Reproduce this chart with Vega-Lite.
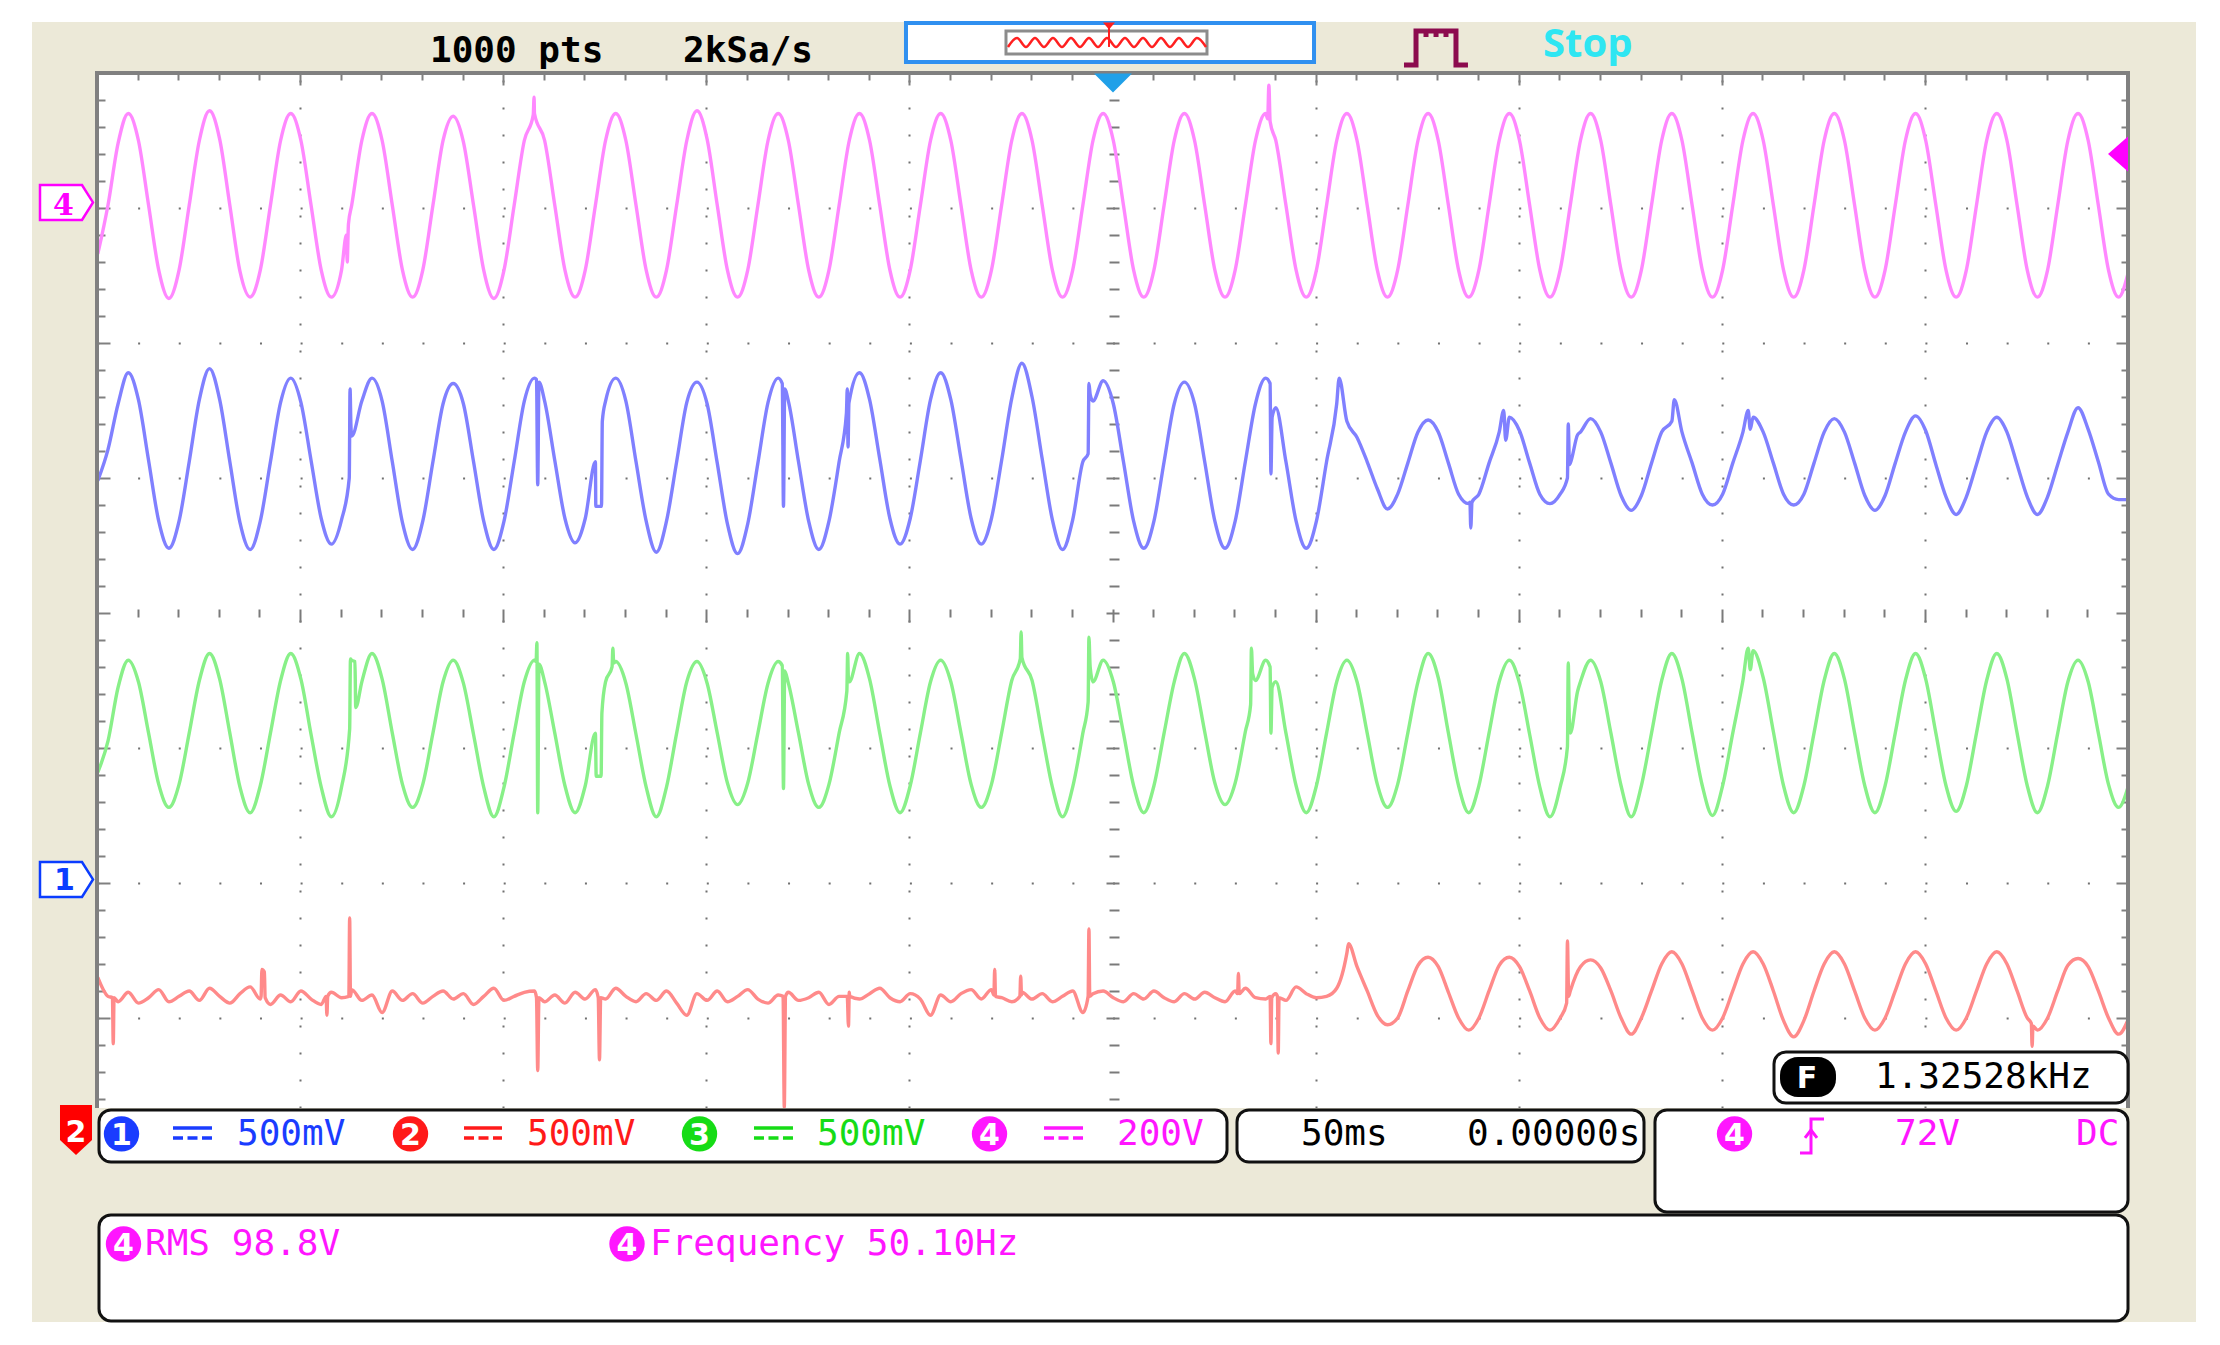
{
"$schema":"https://vega.github.io/schema/vega-lite/v6.json",
"width":2031,"height":1035,
"autosize":{"type":"none"},
"padding":{"left":97,"top":73,"right":92,"bottom":237},
"background":"white",
"config":{"view":{"stroke":null,"fill":"white"}},
"resolve":{"axis":{"x":"independent","y":"independent"}},
"layer":[
{"data":{"values":[
{"x":-266,"x2":266.74,"y":4.378,"y2":4},
{"x":-266,"x2":266.74,"y":-3.667,"y2":-5.252},
{"x":-266,"x2":-250,"y":4,"y2":-3.667},
{"x":250,"x2":266.74,"y":4,"y2":-3.667}]},
"mark":{"type":"rect","color":"#ECE9D8"},
"encoding":{"x":{"field":"x","type":"quantitative","axis":null},"x2":{"field":"x2"},
"y":{"field":"y","type":"quantitative","axis":{"orient":"left","offset":-1022,"values":[-3.6,-3.4,-3.2,-3,-2.8,-2.6,-2.4,-2.2,-2,-1.8,-1.6,-1.4,-1.2,-1,-0.8,-0.6,-0.4,-0.2,0,0.2,0.4,0.6,0.8,1,1.2,1.4,1.6,1.8,2,2.2,2.4,2.6,2.8,3,3.2,3.4,3.6,3.8],"domain":false,"labels":false,"grid":false,"ticks":true,"tickColor":"#7a7a7a","tickWidth":2,"tickSize":{"condition":{"test":"abs(datum.value-round(datum.value))<0.01","value":13},"value":10},"title":null,"zindex":0}},
"y2":{"field":"y2"}}},
{"data":{"values":[
{"t":-249.8,"a":-2.70,"b":0.98,"c":-1.18,"d":2.66},
{"t":-247.3,"a":-2.84,"b":1.21,"c":-0.95,"d":3.02},
{"t":-246.2,"a":-2.85},{"t":-246.0,"a":-3.19},{"t":-245.8,"a":-2.85},
{"t":-244.8,"a":-2.88,"b":1.55,"c":-0.55,"d":3.48},
{"t":-242.3,"a":-2.81,"b":1.78,"c":-0.35,"d":3.70},
{"t":-239.8,"a":-2.89,"b":1.58,"c":-0.51,"d":3.50},
{"t":-237.3,"a":-2.85,"b":1.13,"c":-0.89,"d":3.02},
{"t":-234.8,"a":-2.79,"b":0.68,"c":-1.27,"d":2.54},
{"t":-232.3,"a":-2.88,"b":0.48,"c":-1.44,"d":2.33},
{"t":-229.8,"a":-2.84,"b":0.68,"c":-1.27,"d":2.54},
{"t":-227.3,"a":-2.80,"b":1.12,"c":-0.89,"d":3.02},
{"t":-224.8,"a":-2.87,"b":1.58,"c":-0.50,"d":3.50},
{"t":-222.3,"a":-2.78,"b":1.81,"c":-0.30,"d":3.72},
{"t":-219.8,"a":-2.84,"b":1.58,"c":-0.49,"d":3.51},
{"t":-217.3,"a":-2.89,"b":1.12,"c":-0.89,"d":3.02},
{"t":-214.8,"a":-2.82,"b":0.67,"c":-1.29,"d":2.53},
{"t":-212.3,"a":-2.77,"b":0.47,"c":-1.48,"d":2.34},
{"t":-209.8,"a":-2.86,"b":0.68,"c":-1.28,"d":2.54},
{"t":-209.6,"a":-2.84},{"t":-209.4,"a":-2.64},{"t":-208.8,"a":-2.66},{"t":-208.6,"a":-2.85},
{"t":-207.3,"a":-2.90,"b":1.12,"c":-0.89,"d":3.02},
{"t":-204.8,"a":-2.83,"b":1.56,"c":-0.50,"d":3.50},
{"t":-202.3,"a":-2.88,"b":1.74,"c":-0.30,"d":3.70},
{"t":-199.8,"a":-2.80,"b":1.56,"c":-0.49,"d":3.50},
{"t":-197.3,"a":-2.86,"b":1.13,"c":-0.90,"d":3.02},
{"t":-194.8,"a":-2.90,"b":0.70,"c":-1.29,"d":2.54},
{"t":-193.6,"a":-2.84},{"t":-193.4,"a":-2.98},{"t":-193.2,"a":-2.84},
{"t":-192.3,"a":-2.81,"b":0.51,"c":-1.51,"d":2.34},
{"t":-189.8,"a":-2.85,"b":0.69,"c":-1.29,"d":2.54},
{"t":-188.6,"d":2.80},{"t":-188.4,"d":2.60},{"t":-188.1,"d":2.88},
{"t":-188.0,"a":-2.84},{"t":-187.9,"b":1.00},
{"t":-187.8,"a":-2.26,"c":-0.86},
{"t":-187.7,"b":1.66},
{"t":-187.6,"a":-2.84,"c":-0.34},
{"t":-187.5,"b":1.40},
{"t":-187.3,"a":-2.79,"b":1.31,"c":-0.35,"d":3.02},
{"t":-186.5,"c":-0.36},{"t":-186.3,"c":-0.70},
{"t":-184.8,"a":-2.87,"b":1.57,"c":-0.51,"d":3.50},
{"t":-182.3,"a":-2.83,"b":1.74,"c":-0.30,"d":3.70},
{"t":-179.8,"a":-2.96,"b":1.57,"c":-0.49,"d":3.50},
{"t":-177.3,"a":-2.80,"b":1.12,"c":-0.89,"d":3.02},
{"t":-174.8,"a":-2.87,"b":0.67,"c":-1.27,"d":2.54},
{"t":-172.3,"a":-2.82,"b":0.47,"c":-1.44,"d":2.34},
{"t":-169.8,"a":-2.89,"b":0.68,"c":-1.27,"d":2.54},
{"t":-167.3,"a":-2.84,"b":1.12,"c":-0.89,"d":3.02},
{"t":-164.8,"a":-2.80,"b":1.55,"c":-0.51,"d":3.50},
{"t":-162.3,"a":-2.86,"b":1.70,"c":-0.35,"d":3.68},
{"t":-159.8,"a":-2.82,"b":1.55,"c":-0.52,"d":3.49},
{"t":-157.3,"a":-2.90,"b":1.12,"c":-0.90,"d":3.02},
{"t":-154.8,"a":-2.84,"b":0.68,"c":-1.29,"d":2.54},
{"t":-152.3,"a":-2.78,"b":0.47,"c":-1.51,"d":2.33},
{"t":-149.8,"a":-2.87,"b":0.68,"c":-1.29,"d":2.54},
{"t":-147.3,"a":-2.84,"b":1.12,"c":-0.89,"d":3.02},
{"t":-144.8,"a":-2.81,"b":1.57,"c":-0.51,"d":3.50},
{"t":-142.6,"d":3.69},{"t":-142.4,"d":3.82},
{"t":-142.3,"a":-2.80,"b":1.74,"c":-0.35,"d":3.70},
{"t":-141.9,"c":-0.36},
{"t":-141.8,"a":-2.85,"b":1.73},
{"t":-141.7,"c":-0.22},
{"t":-141.5,"a":-3.39,"b":0.95,"c":-1.48},
{"t":-141.2,"a":-2.85,"b":1.71,"c":-0.38},
{"t":-139.8,"a":-2.88,"b":1.57,"c":-0.51,"d":3.50},
{"t":-137.3,"a":-2.83,"b":1.13,"c":-0.89,"d":3.02},
{"t":-134.8,"a":-2.89,"b":0.70,"c":-1.28,"d":2.54},
{"t":-132.3,"a":-2.81,"b":0.52,"c":-1.48,"d":2.34},
{"t":-129.8,"a":-2.86,"b":0.70,"c":-1.28,"d":2.54},
{"t":-127.3,"a":-2.79,"b":1.12,"c":-0.89,"d":3.02},
{"t":-127.2,"b":0.79},{"t":-127.1,"c":-1.21},
{"t":-126.6,"a":-2.85},{"t":-126.3,"a":-3.31},{"t":-126.0,"a":-2.85},
{"t":-125.9,"c":-1.21},{"t":-125.8,"b":0.79},{"t":-125.7,"c":-0.74},{"t":-125.6,"b":1.42},
{"t":-124.8,"a":-2.86,"b":1.57,"c":-0.51,"d":3.50},
{"t":-123.2,"c":-0.40},{"t":-123.0,"c":-0.26},{"t":-122.8,"c":-0.37},
{"t":-122.3,"a":-2.78,"b":1.74,"c":-0.36,"d":3.70},
{"t":-119.8,"a":-2.84,"b":1.57,"c":-0.52,"d":3.50},
{"t":-117.3,"a":-2.88,"b":1.12,"c":-0.90,"d":3.02},
{"t":-114.8,"a":-2.82,"b":0.68,"c":-1.29,"d":2.54},
{"t":-112.3,"a":-2.87,"b":0.45,"c":-1.51,"d":2.34},
{"t":-109.8,"a":-2.80,"b":0.68,"c":-1.29,"d":2.54},
{"t":-107.3,"a":-2.89,"b":1.12,"c":-0.89,"d":3.02},
{"t":-104.8,"a":-2.98,"b":1.56,"c":-0.51,"d":3.50},
{"t":-102.3,"a":-2.82,"b":1.71,"c":-0.36,"d":3.72},
{"t":-99.8,"a":-2.87,"b":1.55,"c":-0.52,"d":3.51},
{"t":-97.3,"a":-2.80,"b":1.11,"c":-0.89,"d":3.02},
{"t":-94.8,"a":-2.88,"b":0.66,"c":-1.26,"d":2.54},
{"t":-92.3,"a":-2.84,"b":0.44,"c":-1.42,"d":2.34},
{"t":-89.8,"a":-2.79,"b":0.66,"c":-1.26,"d":2.54},
{"t":-87.3,"a":-2.86,"b":1.11,"c":-0.89,"d":3.02},
{"t":-84.8,"a":-2.89,"b":1.56,"c":-0.52,"d":3.50},
{"t":-82.3,"a":-2.83,"b":1.74,"c":-0.36,"d":3.70},
{"t":-81.3,"b":1.70,"c":-0.39},{"t":-81.1,"a":-2.84},{"t":-81.0,"b":0.79,"c":-1.30},{"t":-80.8,"a":-3.66},{"t":-80.7,"b":1.66,"c":-0.43},{"t":-80.5,"a":-2.84},
{"t":-79.8,"a":-2.81,"b":1.57,"c":-0.52,"d":3.50},
{"t":-77.3,"a":-2.87,"b":1.12,"c":-0.89,"d":3.02},
{"t":-74.8,"a":-2.85,"b":0.68,"c":-1.27,"d":2.54},
{"t":-72.3,"a":-2.81,"b":0.47,"c":-1.44,"d":2.34},
{"t":-69.8,"a":-2.90,"b":0.68,"c":-1.27,"d":2.54},
{"t":-67.3,"a":-2.84,"b":1.12,"c":-0.89,"d":3.02},
{"t":-65.5,"b":1.48},{"t":-65.4,"c":-0.58},{"t":-65.3,"a":-2.84,"b":1.66},{"t":-65.2,"c":-0.30},{"t":-65.1,"b":1.23},{"t":-65.0,"a":-3.06,"c":-0.50},{"t":-64.9,"b":1.55},
{"t":-64.8,"a":-2.81,"b":1.57,"c":-0.51,"d":3.50},
{"t":-64.7,"a":-2.84},
{"t":-62.3,"a":-2.86,"b":1.78,"c":-0.30,"d":3.70},
{"t":-59.8,"a":-2.82,"b":1.58,"c":-0.49,"d":3.50},
{"t":-57.3,"a":-2.78,"b":1.14,"c":-0.89,"d":3.02},
{"t":-54.8,"a":-2.85,"b":0.70,"c":-1.28,"d":2.54},
{"t":-52.3,"a":-2.88,"b":0.51,"c":-1.48,"d":2.34},
{"t":-49.8,"a":-2.82,"b":0.70,"c":-1.28,"d":2.54},
{"t":-47.3,"a":-2.86,"b":1.13,"c":-0.89,"d":3.02},
{"t":-44.8,"a":-2.98,"b":1.58,"c":-0.51,"d":3.50},
{"t":-42.3,"a":-2.83,"b":1.78,"c":-0.35,"d":3.70},
{"t":-39.8,"a":-2.88,"b":1.58,"c":-0.51,"d":3.50},
{"t":-37.3,"a":-2.82,"b":1.14,"c":-0.89,"d":3.02},
{"t":-34.8,"a":-2.79,"b":0.70,"c":-1.27,"d":2.54},
{"t":-32.3,"a":-2.86,"b":0.51,"c":-1.44,"d":2.34},
{"t":-29.8,"a":-2.79,"b":0.70,"c":-1.27,"d":2.54},
{"t":-29.2,"a":-2.83},{"t":-29.0,"a":-2.64},{"t":-28.8,"a":-2.84},
{"t":-27.3,"a":-2.85,"b":1.13,"c":-0.89,"d":3.02},
{"t":-24.8,"a":-2.88,"b":1.59,"c":-0.50,"d":3.50},
{"t":-22.8,"a":-2.84},{"t":-22.7,"c":-0.34},{"t":-22.6,"a":-2.69},{"t":-22.5,"c":-0.14},{"t":-22.4,"a":-2.83},
{"t":-22.3,"a":-2.81,"b":1.85,"c":-0.33,"d":3.70},
{"t":-19.8,"a":-2.86,"b":1.60,"c":-0.50,"d":3.50},
{"t":-17.3,"a":-2.82,"b":1.14,"c":-0.90,"d":3.02},
{"t":-14.8,"a":-2.88,"b":0.69,"c":-1.29,"d":2.54},
{"t":-12.3,"a":-2.84,"b":0.47,"c":-1.51,"d":2.34},
{"t":-9.8,"a":-2.80,"b":0.69,"c":-1.29,"d":2.54},
{"t":-7.3,"a":-2.96,"b":1.12,"c":-0.89,"d":3.02},
{"t":-6.0,"a":-2.84,"b":1.18,"c":-0.66},{"t":-5.8,"a":-2.34,"b":1.70,"c":-0.18},{"t":-5.6,"a":-2.84},{"t":-5.5,"b":1.62,"c":-0.40},
{"t":-4.8,"a":-2.82,"b":1.57,"c":-0.51,"d":3.50},
{"t":-2.3,"a":-2.80,"b":1.72,"c":-0.35,"d":3.70},
{"t":0.2,"a":-2.85,"b":1.55,"c":-0.51,"d":3.50},
{"t":2.7,"a":-2.88,"b":1.12,"c":-0.89,"d":3.02},
{"t":5.2,"a":-2.82,"b":0.68,"c":-1.28,"d":2.54},
{"t":7.7,"a":-2.86,"b":0.48,"c":-1.48,"d":2.34},
{"t":10.2,"a":-2.80,"b":0.68,"c":-1.28,"d":2.54},
{"t":12.7,"a":-2.85,"b":1.12,"c":-0.89,"d":3.02},
{"t":15.2,"a":-2.88,"b":1.55,"c":-0.51,"d":3.50},
{"t":17.7,"a":-2.82,"b":1.71,"c":-0.30,"d":3.70},
{"t":20.2,"a":-2.86,"b":1.55,"c":-0.49,"d":3.50},
{"t":22.7,"a":-2.81,"b":1.12,"c":-0.88,"d":3.02},
{"t":25.2,"a":-2.85,"b":0.68,"c":-1.26,"d":2.54},
{"t":27.7,"a":-2.88,"b":0.48,"c":-1.42,"d":2.34},
{"t":30.2,"a":-2.80,"b":0.68,"c":-1.26,"d":2.54},
{"t":30.8,"a":-2.82},{"t":31.0,"a":-2.67},{"t":31.2,"a":-2.82},
{"t":32.7,"a":-2.78,"b":1.12,"c":-0.88,"d":3.02},
{"t":34.0,"c":-0.68},{"t":34.2,"c":-0.26},{"t":34.5,"c":-0.45},
{"t":35.2,"a":-2.85,"b":1.55,"c":-0.50,"d":3.50},
{"t":37.7,"a":-2.86,"b":1.74,"c":-0.35,"d":3.70},
{"t":38.2,"d":3.66},{"t":38.5,"d":3.91},
{"t":38.8,"a":-2.84,"b":1.70,"c":-0.40,"d":3.64},
{"t":39.0,"a":-3.19,"b":1.03,"c":-0.89},
{"t":39.2,"a":-2.85},{"t":39.3,"b":1.45,"c":-0.55},
{"t":40.2,"a":-2.82,"b":1.52,"c":-0.51,"d":3.50},
{"t":40.6,"a":-2.84},{"t":40.8,"a":-3.26},{"t":41.0,"a":-2.85},
{"t":42.7,"a":-2.87,"b":1.12,"c":-0.89,"d":3.02},
{"t":45.2,"a":-2.77,"b":0.68,"c":-1.28,"d":2.54},
{"t":47.7,"a":-2.82,"b":0.48,"c":-1.48,"d":2.34},
{"t":50.2,"a":-2.85,"b":0.68,"c":-1.28,"d":2.54},
{"t":52.7,"a":-2.84,"b":1.12,"c":-0.89,"d":3.02},
{"t":55.2,"a":-2.78,"b":1.55,"c":-0.51,"d":3.50},
{"t":55.8,"b":1.74},
{"t":57.7,"a":-2.52,"b":1.42,"c":-0.35,"d":3.70},
{"t":58.1,"a":-2.45},
{"t":60.2,"a":-2.62,"b":1.30,"c":-0.51,"d":3.50},
{"t":62.7,"a":-2.80,"b":1.12,"c":-0.89,"d":3.02},
{"t":65.2,"a":-2.98,"b":0.92,"c":-1.27,"d":2.54},
{"t":67.7,"a":-3.05,"b":0.77,"c":-1.44,"d":2.34},
{"t":70.2,"a":-3.00,"b":0.88,"c":-1.27,"d":2.54},
{"t":72.7,"a":-2.80,"b":1.11,"c":-0.89,"d":3.02},
{"t":75.2,"a":-2.61,"b":1.34,"c":-0.51,"d":3.50},
{"t":77.7,"a":-2.55,"b":1.43,"c":-0.30,"d":3.70},
{"t":80.2,"a":-2.62,"b":1.34,"c":-0.48,"d":3.50},
{"t":82.7,"a":-2.81,"b":1.11,"c":-0.89,"d":3.02},
{"t":85.2,"a":-3.00,"b":0.88,"c":-1.28,"d":2.54},
{"t":87.7,"a":-3.09,"b":0.81,"c":-1.48,"d":2.34},
{"t":88.0,"b":0.82},{"t":88.2,"b":0.63},{"t":88.5,"b":0.82},
{"t":90.2,"a":-3.00,"b":0.88,"c":-1.28,"d":2.54},
{"t":92.7,"a":-2.80,"b":1.11,"c":-0.89,"d":3.02},
{"t":95.2,"a":-2.61,"b":1.34,"c":-0.51,"d":3.50},
{"t":96.3,"b":1.50},{"t":96.8,"b":1.28},
{"t":97.7,"a":-2.55,"b":1.45,"c":-0.35,"d":3.70},
{"t":100.2,"a":-2.62,"b":1.35,"c":-0.52,"d":3.50},
{"t":102.7,"a":-2.80,"b":1.11,"c":-0.90,"d":3.02},
{"t":105.2,"a":-3.00,"b":0.88,"c":-1.29,"d":2.54},
{"t":107.7,"a":-3.09,"b":0.81,"c":-1.51,"d":2.34},
{"t":110.2,"a":-3.00,"b":0.88,"c":-1.29,"d":2.54},
{"t":111.8,"a":-2.89},{"t":112.0,"a":-2.43,"b":1.00,"c":-0.99},{"t":112.2,"b":1.40,"c":-0.37},{"t":112.3,"a":-2.84},{"t":112.5,"b":1.10,"c":-0.84},
{"t":112.7,"a":-2.80,"b":1.11,"c":-0.89,"d":3.02},
{"t":114.5,"b":1.32,"c":-0.58},
{"t":115.2,"a":-2.62,"b":1.34,"c":-0.51,"d":3.50},
{"t":117.7,"a":-2.57,"b":1.44,"c":-0.35,"d":3.70},
{"t":120.2,"a":-2.63,"b":1.34,"c":-0.51,"d":3.50},
{"t":122.7,"a":-2.80,"b":1.11,"c":-0.89,"d":3.02},
{"t":125.2,"a":-3.00,"b":0.87,"c":-1.28,"d":2.54},
{"t":127.7,"a":-3.12,"b":0.76,"c":-1.51,"d":2.34},
{"t":130.2,"a":-3.00,"b":0.87,"c":-1.28,"d":2.54},
{"t":132.7,"a":-2.80,"b":1.11,"c":-0.89,"d":3.02},
{"t":135.2,"a":-2.60,"b":1.34,"c":-0.50,"d":3.50},
{"t":137.7,"a":-2.51,"b":1.42,"c":-0.30,"d":3.70},
{"t":138.3,"b":1.58},
{"t":140.2,"a":-2.60,"b":1.34,"c":-0.49,"d":3.50},
{"t":142.7,"a":-2.80,"b":1.11,"c":-0.89,"d":3.02},
{"t":145.2,"a":-3.00,"b":0.88,"c":-1.28,"d":2.54},
{"t":147.7,"a":-3.09,"b":0.80,"c":-1.50,"d":2.34},
{"t":150.2,"a":-3.00,"b":0.88,"c":-1.28,"d":2.54},
{"t":152.7,"a":-2.80,"b":1.11,"c":-0.89,"d":3.02},
{"t":155.2,"a":-2.60,"b":1.34,"c":-0.50,"d":3.50},
{"t":156.5,"b":1.50,"c":-0.26},{"t":157.0,"b":1.36,"c":-0.42},
{"t":157.7,"a":-2.51,"b":1.45,"c":-0.28,"d":3.70},
{"t":160.2,"a":-2.60,"b":1.34,"c":-0.48,"d":3.50},
{"t":162.7,"a":-2.80,"b":1.11,"c":-0.88,"d":3.02},
{"t":165.2,"a":-3.02,"b":0.88,"c":-1.28,"d":2.54},
{"t":167.7,"a":-3.14,"b":0.80,"c":-1.48,"d":2.34},
{"t":170.2,"a":-3.02,"b":0.88,"c":-1.28,"d":2.54},
{"t":172.7,"a":-2.80,"b":1.11,"c":-0.89,"d":3.02},
{"t":175.2,"a":-2.60,"b":1.34,"c":-0.50,"d":3.50},
{"t":177.7,"a":-2.51,"b":1.44,"c":-0.30,"d":3.70},
{"t":180.2,"a":-2.60,"b":1.34,"c":-0.49,"d":3.50},
{"t":182.7,"a":-2.80,"b":1.11,"c":-0.89,"d":3.02},
{"t":185.2,"a":-3.00,"b":0.87,"c":-1.28,"d":2.54},
{"t":187.7,"a":-3.09,"b":0.76,"c":-1.48,"d":2.34},
{"t":190.2,"a":-3.00,"b":0.87,"c":-1.28,"d":2.54},
{"t":192.7,"a":-2.80,"b":1.11,"c":-0.89,"d":3.02},
{"t":195.2,"a":-2.60,"b":1.34,"c":-0.50,"d":3.50},
{"t":197.7,"a":-2.51,"b":1.46,"c":-0.30,"d":3.70},
{"t":200.2,"a":-2.60,"b":1.35,"c":-0.49,"d":3.50},
{"t":202.7,"a":-2.80,"b":1.10,"c":-0.89,"d":3.02},
{"t":205.2,"a":-3.00,"b":0.86,"c":-1.28,"d":2.54},
{"t":207.7,"a":-3.09,"b":0.73,"c":-1.47,"d":2.34},
{"t":210.2,"a":-3.00,"b":0.86,"c":-1.28,"d":2.54},
{"t":212.7,"a":-2.80,"b":1.10,"c":-0.89,"d":3.02},
{"t":215.2,"a":-2.60,"b":1.34,"c":-0.50,"d":3.50},
{"t":217.7,"a":-2.51,"b":1.45,"c":-0.30,"d":3.70},
{"t":220.2,"a":-2.60,"b":1.34,"c":-0.49,"d":3.50},
{"t":222.7,"a":-2.80,"b":1.10,"c":-0.89,"d":3.02},
{"t":225.2,"a":-3.00,"b":0.86,"c":-1.28,"d":2.54},
{"t":226.2,"a":-3.04},{"t":226.4,"a":-3.21},{"t":226.6,"a":-3.06},
{"t":227.7,"a":-3.09,"b":0.73,"c":-1.48,"d":2.34},
{"t":230.2,"a":-3.00,"b":0.86,"c":-1.28,"d":2.54},
{"t":232.7,"a":-2.80,"b":1.10,"c":-0.89,"d":3.02},
{"t":235.2,"a":-2.61,"b":1.34,"c":-0.51,"d":3.50},
{"t":237.7,"a":-2.56,"b":1.52,"c":-0.35,"d":3.70},
{"t":240.2,"a":-2.62,"b":1.36,"c":-0.51,"d":3.50},
{"t":242.7,"a":-2.80,"b":1.12,"c":-0.89,"d":3.02},
{"t":245.2,"a":-3.00,"b":0.88,"c":-1.27,"d":2.54},
{"t":247.7,"a":-3.12,"b":0.84,"c":-1.44,"d":2.34},
{"t":250.2,"a":-3.00,"b":0.84,"c":-1.27,"d":2.54}]},
"transform":[{"fold":["a","b","c","d"],"as":["ch","v"]},{"filter":"isValid(datum.v)"}],
"mark":{"type":"line","strokeWidth":3.4,"clip":true,"interpolate":"monotone"},
"encoding":{
"x":{"field":"t","type":"quantitative","scale":{"domain":[-250,250],"nice":false,"zero":false},"axis":{"orient":"top","values":[-240,-230,-220,-210,-200,-190,-180,-170,-160,-150,-140,-130,-120,-110,-100,-90,-80,-70,-60,-50,-40,-30,-20,-10,0,10,20,30,40,50,60,70,80,90,100,110,120,130,140,150,160,170,180,190,200,210,220,230,240],"domain":false,"labels":false,"ticks":true,"tickColor":"#808080","tickWidth":2,"tickSize":{"condition":{"test":"datum.value % 50 === 0","value":-12},"value":-7},"grid":true,"gridColor":"#707070","gridWidth":2,"gridDash":[2,25],"gridOpacity":{"condition":{"test":"datum.value % 50 === 0 && datum.value !== 0","value":1},"value":0},"title":null,"zindex":0}},
"y":{"field":"v","type":"quantitative","scale":{"domain":[-3.667,4],"nice":false,"zero":false},"axis":{"orient":"left","values":[-3.6,-3.4,-3.2,-3,-2.8,-2.6,-2.4,-2.2,-2,-1.8,-1.6,-1.4,-1.2,-1,-0.8,-0.6,-0.4,-0.2,0,0.2,0.4,0.6,0.8,1,1.2,1.4,1.6,1.8,2,2.2,2.4,2.6,2.8,3,3.2,3.4,3.6,3.8],"domain":false,"labels":false,"ticks":true,"tickColor":"#808080","tickWidth":2,"tickSize":{"condition":{"test":"abs(datum.value-round(datum.value))<0.01","value":-13},"value":-8},"grid":true,"gridColor":"#707070","gridWidth":2,"gridDash":[2,38.62],"gridOpacity":{"condition":{"test":"abs(datum.value-round(datum.value))<0.01 && abs(datum.value)>0.01","value":1},"value":0},"title":null,"zindex":0}},
"stroke":{"field":"ch","type":"nominal","scale":{"domain":["a","b","c","d"],"range":["#FF8A8A","#8080FF","#88F088","#FF88FF"]},"legend":null}}},
{"data":{"values":[
{"x":-250,"x2":-250,"y":4.015,"y2":-3.667},
{"x":250,"x2":250,"y":4.015,"y2":-3.667},
{"x":-250.4,"x2":250.4,"y":4,"y2":4}]},
"mark":{"type":"rule","color":"#808080","strokeWidth":4},
"encoding":{
"x":{"field":"x","type":"quantitative","axis":{"orient":"bottom","offset":-499,"values":[-240,-230,-220,-210,-200,-190,-180,-170,-160,-150,-140,-130,-120,-110,-100,-90,-80,-70,-60,-50,-40,-30,-20,-10,0,10,20,30,40,50,60,70,80,90,100,110,120,130,140,150,160,170,180,190,200,210,220,230,240],"domain":false,"labels":false,"grid":false,"ticks":true,"tickColor":"#7a7a7a","tickWidth":2,"tickSize":{"condition":{"test":"datum.value % 50 === 0","value":13},"value":8},"title":null,"zindex":0}},
"x2":{"field":"x2"},
"y":{"field":"y","type":"quantitative","axis":{"orient":"right","values":[-3.6,-3.4,-3.2,-3,-2.8,-2.6,-2.4,-2.2,-2,-1.8,-1.6,-1.4,-1.2,-1,-0.8,-0.6,-0.4,-0.2,0,0.2,0.4,0.6,0.8,1,1.2,1.4,1.6,1.8,2,2.2,2.4,2.6,2.8,3,3.2,3.4,3.6,3.8],"domain":false,"labels":false,"grid":false,"ticks":true,"tickColor":"#808080","tickWidth":2,"tickSize":{"condition":{"test":"abs(datum.value-round(datum.value))<0.01","value":-12},"value":-7},"title":null,"zindex":0}},
"y2":{"field":"y2"}}},
{"data":{"values":[
{"x":-249.51,"x2":28.19,"y":-3.681,"y2":-4.067},
{"x":30.65,"x2":130.85,"y":-3.681,"y2":-4.067},
{"x":133.55,"x2":250,"y":-3.681,"y2":-4.437},
{"x":162.85,"x2":250,"y":-3.252,"y2":-3.630},
{"x":-249.51,"x2":250,"y":-4.459,"y2":-5.244}]},
"mark":{"type":"rect","fill":"white","stroke":"#111111","strokeWidth":3,"cornerRadius":12},
"encoding":{"x":{"field":"x","type":"quantitative","axis":null},"x2":{"field":"x2"},"y":{"field":"y","type":"quantitative","axis":null},"y2":{"field":"y2"}}},
{"data":{"values":[{"x":164.33,"x2":178.11,"y":-3.289,"y2":-3.585}]},
"mark":{"type":"rect","fill":"black","cornerRadius":18},
"encoding":{"x":{"field":"x","type":"quantitative","axis":null},"x2":{"field":"x2"},"y":{"field":"y","type":"quantitative","axis":null},"y2":{"field":"y2"}}},
{"data":{"values":[{"x":-50.84,"x2":49.61,"y":4.370,"y2":4.081}]},
"mark":{"type":"rect","fill":"white","stroke":"#3090F0","strokeWidth":4},
"encoding":{"x":{"field":"x","type":"quantitative","axis":null},"x2":{"field":"x2"},"y":{"field":"y","type":"quantitative","axis":null},"y2":{"field":"y2"}}},
{"data":{"values":[{"x":-26.22,"x2":23.26,"y":4.311,"y2":4.141}]},
"mark":{"type":"rect","fill":"white","stroke":"#8C8C8C","strokeWidth":3},
"encoding":{"x":{"field":"x","type":"quantitative","axis":null},"x2":{"field":"x2"},"y":{"field":"y","type":"quantitative","axis":null},"y2":{"field":"y2"}}},
{"data":{"values":[
{"x":-25.73,"y":4.193},{"x":-23.51,"y":4.259},{"x":-21.30,"y":4.193},{"x":-19.08,"y":4.259},{"x":-16.87,"y":4.193},{"x":-14.65,"y":4.259},{"x":-12.44,"y":4.193},{"x":-10.22,"y":4.259},{"x":-8.00,"y":4.193},{"x":-5.79,"y":4.259},{"x":-3.57,"y":4.193},{"x":-1.36,"y":4.259},{"x":0.86,"y":4.193},{"x":3.07,"y":4.259},{"x":5.29,"y":4.193},{"x":7.51,"y":4.259},{"x":9.72,"y":4.193},{"x":11.94,"y":4.259},{"x":14.15,"y":4.193},{"x":16.37,"y":4.259},{"x":18.58,"y":4.193},{"x":20.80,"y":4.259},{"x":23.02,"y":4.193}]},
"mark":{"type":"line","color":"#FF2020","strokeWidth":2.5,"interpolate":"monotone"},
"encoding":{"x":{"field":"x","type":"quantitative","axis":null},"y":{"field":"y","type":"quantitative","axis":null}}},
{"data":{"values":[{"x":-0.86,"y":4.348,"y2":4.193}]},
"mark":{"type":"rule","color":"#FF2020","strokeWidth":2},
"encoding":{"x":{"field":"x","type":"quantitative","axis":null},"y":{"field":"y","type":"quantitative","axis":null},"y2":{"field":"y2"}}},
{"data":{"values":[{"x":-0.86,"y":4.348}]},
"mark":{"type":"point","shape":"M-1,-0.6L1,-0.6L0,0.6Z","size":144,"filled":true,"color":"#FF2020","opacity":1},
"encoding":{"x":{"field":"x","type":"quantitative","axis":null},"y":{"field":"y","type":"quantitative","axis":null}}},
{"data":{"values":[
{"i":0,"x":71.76,"y":4.059},{"i":1,"x":74.72,"y":4.059},{"i":2,"x":74.72,"y":4.311},{"i":3,"x":77.18,"y":4.311},{"i":4,"x":77.18,"y":4.267},{"i":5,"x":77.18,"y":4.311},{"i":6,"x":79.65,"y":4.311},{"i":7,"x":79.65,"y":4.267},{"i":8,"x":79.65,"y":4.311},{"i":9,"x":82.10,"y":4.311},{"i":10,"x":82.10,"y":4.267},{"i":11,"x":82.10,"y":4.311},{"i":12,"x":84.56,"y":4.311},{"i":13,"x":84.56,"y":4.059},{"i":14,"x":87.51,"y":4.059}]},
"mark":{"type":"line","color":"#8C0B4E","strokeWidth":5,"strokeJoin":"miter"},
"encoding":{"x":{"field":"x","type":"quantitative","axis":null},"y":{"field":"y","type":"quantitative","axis":null},"order":{"field":"i"}}},
{"data":{"values":[
{"g":1,"i":0,"x":169.25,"y":-4.0},{"g":1,"i":1,"x":171.96,"y":-4.0},{"g":1,"i":2,"x":171.96,"y":-3.748},{"g":1,"i":3,"x":175.16,"y":-3.748},
{"g":2,"i":0,"x":170.48,"y":-3.889},{"g":2,"i":1,"x":171.96,"y":-3.830},{"g":2,"i":2,"x":173.44,"y":-3.889}]},
"mark":{"type":"line","color":"#FF14FF","strokeWidth":3},
"encoding":{"x":{"field":"x","type":"quantitative","axis":null},"y":{"field":"y","type":"quantitative","axis":null},"order":{"field":"i"},"detail":{"field":"g","type":"nominal"}}},
{"data":{"values":[{"x":0.12,"y":3.926}]},
"mark":{"type":"point","shape":"M-1,-0.5L1,-0.5L0,0.5Z","size":1444,"filled":true,"color":"#20A0E8","opacity":1},
"encoding":{"x":{"field":"x","type":"quantitative","axis":null},"y":{"field":"y","type":"quantitative","axis":null}}},
{"data":{"values":[{"x":247.54,"y":3.4}]},
"mark":{"type":"point","shape":"M0.57,-1L0.57,1L-0.57,0Z","size":1225,"filled":true,"color":"#FF00FF","opacity":1},
"encoding":{"x":{"field":"x","type":"quantitative","axis":null},"y":{"field":"y","type":"quantitative","axis":null}}},
{"data":{"values":[{"x":-257.51,"y":3.041}]},
"mark":{"type":"point","shape":"M-1,-0.66L0.585,-0.66L1,0L0.585,0.66L-1,0.66Z","size":2809,"filled":true,"fill":"white","stroke":"#FF00FF","strokeWidth":2.5,"opacity":1},
"encoding":{"x":{"field":"x","type":"quantitative","axis":null},"y":{"field":"y","type":"quantitative","axis":null}}},
{"data":{"values":[{"x":-257.51,"y":-1.974}]},
"mark":{"type":"point","shape":"M-1,-0.66L0.585,-0.66L1,0L0.585,0.66L-1,0.66Z","size":2809,"filled":true,"fill":"white","stroke":"#0A3CFF","strokeWidth":2.5,"opacity":1},
"encoding":{"x":{"field":"x","type":"quantitative","axis":null},"y":{"field":"y","type":"quantitative","axis":null}}},
{"data":{"values":[{"x":-255.17,"y":-3.830}]},
"mark":{"type":"point","shape":"M-0.64,-1L0.64,-1L0.64,0.4L0,1L-0.64,0.4Z","size":2500,"filled":true,"color":"#FF0000","opacity":1},
"encoding":{"x":{"field":"x","type":"quantitative","axis":null},"y":{"field":"y","type":"quantitative","axis":null}}},
{"data":{"values":[
{"x":-243.97,"y":-3.859,"ch":"1"},{"x":-172.82,"y":-3.859,"ch":"2"},{"x":-101.67,"y":-3.859,"ch":"3"},{"x":-30.28,"y":-3.859,"ch":"4"},{"x":153.13,"y":-3.859,"ch":"4"},{"x":-243.48,"y":-4.674,"ch":"4"},{"x":-119.52,"y":-4.674,"ch":"4"}]},
"mark":{"type":"point","shape":"circle","filled":true,"size":1250,"opacity":1},
"encoding":{"x":{"field":"x","type":"quantitative","axis":null},"y":{"field":"y","type":"quantitative","axis":null},
"color":{"field":"ch","type":"nominal","scale":{"domain":["1","2","3","4","k"],"range":["#1A3CFF","#FF1A1A","#16DC16","#FF16FF","#000000"]},"legend":null}}},
{"data":{"values":[
{"x":-231.29,"x2":-221.69,"y":-3.815,"ch":"1"},{"x":-159.65,"x2":-150.30,"y":-3.815,"ch":"2"},{"x":-88.26,"x2":-78.66,"y":-3.815,"ch":"3"},{"x":-16.86,"x2":-7.26,"y":-3.815,"ch":"4"}]},
"mark":{"type":"rule","strokeWidth":3.5},
"encoding":{"x":{"field":"x","type":"quantitative","axis":null},"x2":{"field":"x2"},"y":{"field":"y","type":"quantitative","axis":null},
"color":{"field":"ch","type":"nominal","scale":{"domain":["1","2","3","4","k"],"range":["#1A3CFF","#FF1A1A","#16DC16","#FF16FF","#000000"]},"legend":null}}},
{"data":{"values":[
{"x":-231.29,"x2":-221.69,"y":-3.889,"ch":"1"},{"x":-159.65,"x2":-150.30,"y":-3.889,"ch":"2"},{"x":-88.26,"x2":-78.66,"y":-3.889,"ch":"3"},{"x":-16.86,"x2":-7.26,"y":-3.889,"ch":"4"}]},
"mark":{"type":"rule","strokeWidth":3.5,"strokeDash":[10,4.5]},
"encoding":{"x":{"field":"x","type":"quantitative","axis":null},"x2":{"field":"x2"},"y":{"field":"y","type":"quantitative","axis":null},
"color":{"field":"ch","type":"nominal","scale":{"domain":["1","2","3","4","k"],"range":["#1A3CFF","#FF1A1A","#16DC16","#FF16FF","#000000"]},"legend":null}}},
{"data":{"values":[
{"x":-215.53,"y":-3.941,"txt":"500mV","ch":"1"},
{"x":-144.14,"y":-3.941,"txt":"500mV","ch":"2"},
{"x":-72.75,"y":-3.941,"txt":"500mV","ch":"3"},
{"x":1.11,"y":-3.941,"txt":"200V","ch":"4"},
{"x":46.41,"y":-3.941,"txt":"50ms","ch":"k"},
{"x":87.27,"y":-3.941,"txt":"0.00000s","ch":"k"},
{"x":192.64,"y":-3.941,"txt":"72V","ch":"4"},
{"x":237.2,"y":-3.941,"txt":"DC","ch":"4"},
{"x":187.71,"y":-3.519,"txt":"1.32528kHz","ch":"k"},
{"x":-238.18,"y":-4.756,"txt":"RMS 98.8V","ch":"4"},
{"x":-113.86,"y":-4.756,"txt":"Frequency 50.10Hz","ch":"4"}]},
"mark":{"type":"text","font":"DejaVu Sans Mono","fontSize":36,"align":"left","baseline":"alphabetic"},
"encoding":{"x":{"field":"x","type":"quantitative","axis":null},"y":{"field":"y","type":"quantitative","axis":null},"text":{"field":"txt","type":"nominal"},
"color":{"field":"ch","type":"nominal","scale":{"domain":["1","2","3","4","k"],"range":["#1A3CFF","#FF1A1A","#16DC16","#FF16FF","#000000"]},"legend":null}}},
{"data":{"values":[
{"x":-243.97,"y":-3.941,"txt":"1"},{"x":-172.82,"y":-3.941,"txt":"2"},{"x":-101.67,"y":-3.941,"txt":"3"},{"x":-30.28,"y":-3.941,"txt":"4"},{"x":153.13,"y":-3.941,"txt":"4"},{"x":-243.48,"y":-4.756,"txt":"4"},{"x":-119.52,"y":-4.756,"txt":"4"},{"x":170.97,"y":-3.519,"txt":"F"},{"x":-255.17,"y":-3.919,"txt":"2"}]},
"mark":{"type":"text","font":"DejaVu Sans","fontWeight":"bold","fontSize":30,"align":"center","baseline":"alphabetic","color":"white"},
"encoding":{"x":{"field":"x","type":"quantitative","axis":null},"y":{"field":"y","type":"quantitative","axis":null},"text":{"field":"txt","type":"nominal"}}},
{"data":{"values":[{"x":-168.02,"y":4.081,"txt":"1000 pts"},{"x":-105.74,"y":4.081,"txt":"2kSa/s"}]},
"mark":{"type":"text","font":"DejaVu Sans Mono","fontWeight":"bold","fontSize":36,"align":"left","baseline":"alphabetic","color":"black"},
"encoding":{"x":{"field":"x","type":"quantitative","axis":null},"y":{"field":"y","type":"quantitative","axis":null},"text":{"field":"txt","type":"nominal"}}},
{"data":{"values":[{"x":105.98,"y":4.119,"txt":"Stop"}]},
"mark":{"type":"text","font":"Open Sans","fontWeight":"bold","fontSize":40,"align":"left","baseline":"alphabetic","color":"#2EE6F2"},
"encoding":{"x":{"field":"x","type":"quantitative","axis":null},"y":{"field":"y","type":"quantitative","axis":null},"text":{"field":"txt","type":"nominal"}}},
{"data":{"values":[{"x":-258.25,"y":2.948,"txt":"4"}]},
"mark":{"type":"text","font":"DejaVu Serif","fontWeight":"bold","fontSize":30,"align":"center","baseline":"alphabetic","color":"#FF00FF"},
"encoding":{"x":{"field":"x","type":"quantitative","axis":null},"y":{"field":"y","type":"quantitative","axis":null},"text":{"field":"txt","type":"nominal"}}},
{"data":{"values":[{"x":-258.0,"y":-2.052,"txt":"1"}]},
"mark":{"type":"text","font":"DejaVu Sans","fontWeight":"bold","fontSize":30,"align":"center","baseline":"alphabetic","color":"#0A3CFF"},
"encoding":{"x":{"field":"x","type":"quantitative","axis":null},"y":{"field":"y","type":"quantitative","axis":null},"text":{"field":"txt","type":"nominal"}}}
]
}
